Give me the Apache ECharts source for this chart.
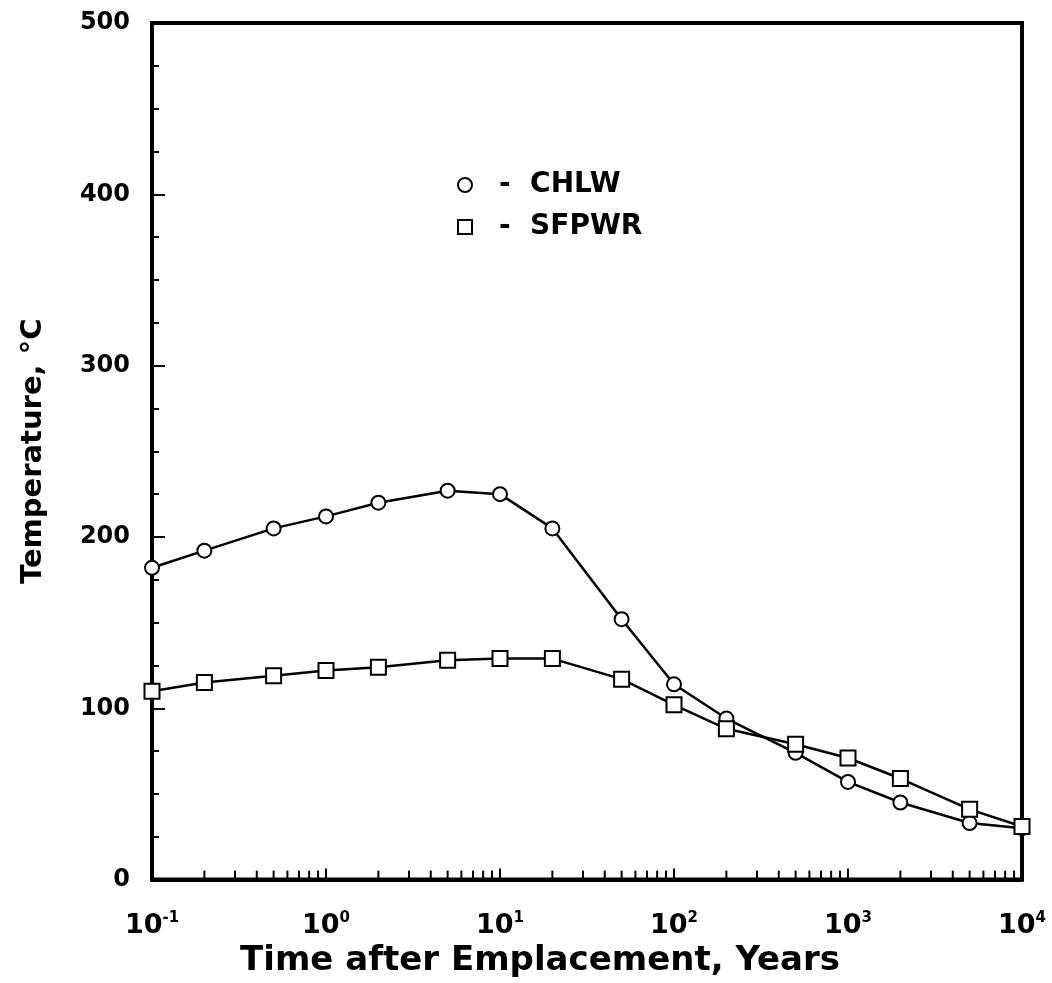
<!DOCTYPE html>
<html>
<head>
<meta charset="utf-8">
<title>Temperature vs time after emplacement</title>
<script src="https://cdn.jsdelivr.net/npm/echarts@6/dist/echarts.min.js"></script>
<style>
  html, body { margin: 0; padding: 0; background: #fff; }
  #chart { width: 1052px; height: 983px; }
</style>
</head>
<body>
<div id="chart"></div>
<script>
// time after emplacement, years
const times = [0.1, 0.2, 0.5, 1, 2, 5, 10, 20, 50, 100, 200, 500, 1000, 2000, 5000, 10000]
// temperature, deg C
const chlw = [182, 192, 205, 212, 220, 227, 225, 205, 152, 114, 94, 74, 57, 45, 33, 30]
const sfpwr = [110, 115, 119, 122, 124, 128, 129, 129, 117, 102, 88, 79, 71, 59, 41, 31]

// minor ticks on the log axis (2..9 in each decade)
const decades = [0.1, 1, 10, 100, 1000]
const mantissas = [2, 3, 4, 5, 6, 7, 8, 9]
const minorTicks = []
decades.forEach(d => mantissas.forEach(m => minorTicks.push([+(d * m).toPrecision(3), 0])))

const font = 'DejaVu Sans'
const chart = echarts.init(document.getElementById('chart'))

const pairs = arr => times.map((t, i) => [t, arr[i]])

const option = {
  animation: false,
  backgroundColor: '#fff',
  grid: {
    left: 152, right: 30, top: 23, bottom: 101,
    show: true, borderColor: '#000', borderWidth: 4
  },
  legend: {
    orient: 'vertical',
    left: 452, top: 166,
    itemWidth: 14, itemHeight: 14, itemGap: 14,
    data: [
      { name: 'CHLW', icon: 'emptyCircle' },
      { name: 'SFPWR', icon: 'emptyRect' }
    ],
    formatter: '-  {name}',
    textStyle: {
      fontFamily: font, fontWeight: 'bold', fontSize: 28, color: '#000',
      lineHeight: 28, padding: [0, 0, 0, 22]
    }
  },
  xAxis: {
    type: 'log', logBase: 10, min: 0.1, max: 10000,
    name: 'Time after Emplacement, Years',
    nameLocation: 'middle', nameGap: 57,
    nameTextStyle: {
      fontFamily: font, fontWeight: 'bold', fontSize: 34, color: '#000',
      padding: [0, 94, 0, 0]
    },
    axisLine: { lineStyle: { color: '#000', width: 4 } },
    axisTick: { inside: true, length: 11, lineStyle: { color: '#000', width: 2 } },
    splitLine: { show: false },
    axisLabel: {
      margin: 31,
      formatter: v => '{b|10}{s|' + Math.round(Math.log10(v)) + '}',
      rich: {
        b: { fontFamily: font, fontWeight: 'bold', fontSize: 27, color: '#000', lineHeight: 30 },
        s: { fontFamily: font, fontWeight: 'bold', fontSize: 15, color: '#000', verticalAlign: 'top', lineHeight: 15, padding: [0, 0, 12, 0] }
      }
    }
  },
  yAxis: {
    type: 'value', min: 0, max: 500, interval: 100,
    name: 'Temperature, °C',
    nameLocation: 'middle', nameGap: 104,
    nameTextStyle: { fontFamily: font, fontWeight: 'bold', fontSize: 29, color: '#000' },
    axisLine: { show: true, lineStyle: { color: '#000', width: 4 } },
    axisTick: { show: true, inside: true, length: 13, lineStyle: { color: '#000', width: 2 } },
    minorTick: { show: true, splitNumber: 4, length: 7, lineStyle: { color: '#000', width: 2 } },
    splitLine: { show: false },
    axisLabel: { margin: 22, fontFamily: font, fontWeight: 'bold', fontSize: 24, color: '#000' }
  },
  series: [
    {
      name: 'CHLW', type: 'line', data: pairs(chlw),
      symbol: 'emptyCircle', symbolSize: 14, clip: false, z: 5,
      color: '#000',
      lineStyle: { color: '#000', width: 2.5 },
      itemStyle: { color: '#000', borderColor: '#000', borderWidth: 2.5 }
    },
    {
      name: 'SFPWR', type: 'line', data: pairs(sfpwr),
      symbol: 'emptyRect', symbolSize: 15, clip: false, z: 5,
      color: '#000',
      lineStyle: { color: '#000', width: 2.5 },
      itemStyle: { color: '#000', borderColor: '#000', borderWidth: 2.5 }
    },
    {
      name: 'minorTicks', type: 'custom', data: minorTicks,
      silent: true, clip: false, z: 3,
      renderItem: (params, api) => {
        const p = api.coord([api.value(0), api.value(1)])
        return {
          type: 'line',
          shape: { x1: p[0], y1: p[1], x2: p[0], y2: p[1] - 9 },
          style: { stroke: '#000', lineWidth: 2 }
        }
      }
    }
  ]
}

chart.setOption(option)
</script>
</body>
</html>
